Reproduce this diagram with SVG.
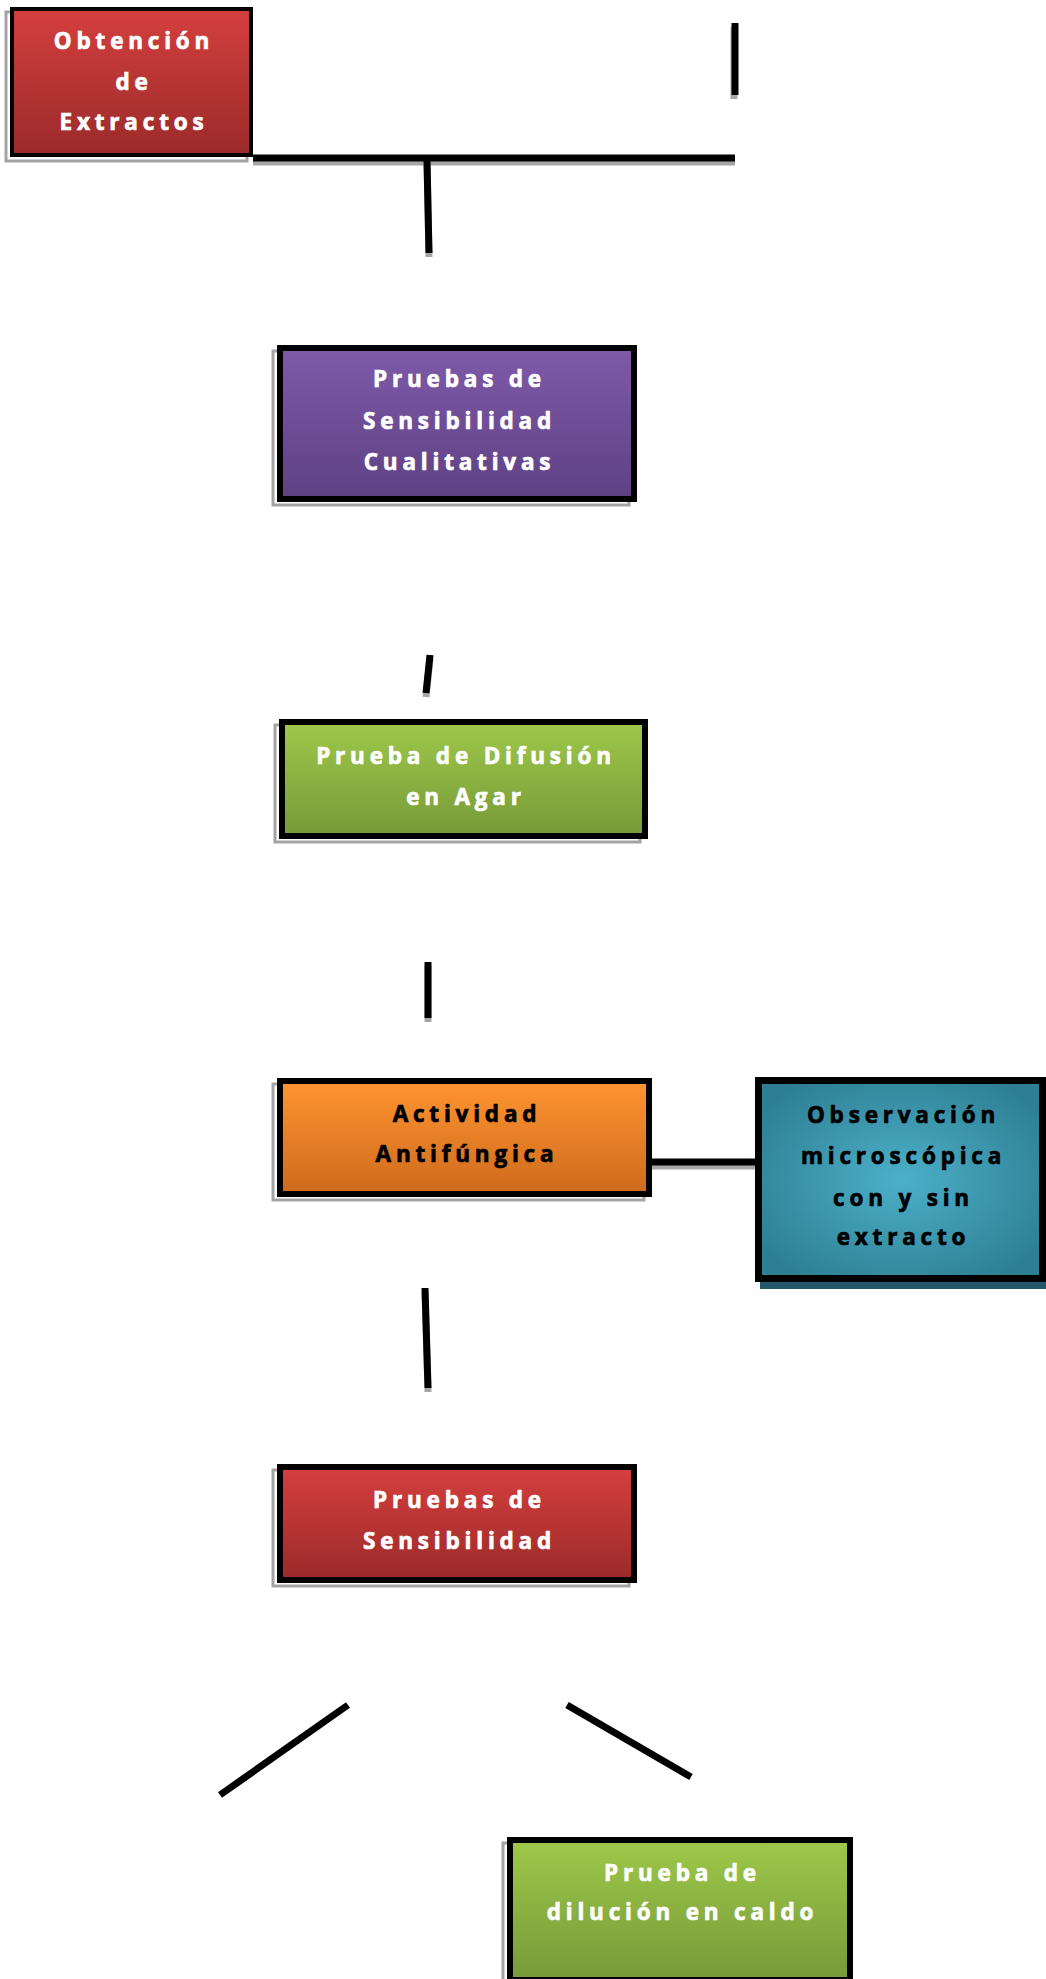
<svg xmlns="http://www.w3.org/2000/svg" width="1046" height="1979" viewBox="0 0 1046 1979">
<style>
.bg{fill:#ffffff}
.box{stroke:#000;stroke-width:6}
.sh{fill:#fff;stroke:#a3a3a3;stroke-width:3}
.t{font-family:"Open Sans",Lato,sans-serif;font-weight:700;font-size:22.5px;letter-spacing:4.8px;text-anchor:middle;stroke-width:0.7px}
.w{fill:#ffffff;stroke:#ffffff}
.k{fill:#000000;stroke:#000000}
.ln{stroke:#000;stroke-width:7;fill:none}
.lns{stroke:#a6a6a6;stroke-width:7;fill:none}
</style>
<defs>
<linearGradient id="gRed" x1="0" y1="0" x2="0" y2="1"><stop offset="0" stop-color="#d43f3e"/><stop offset="1" stop-color="#9b2a2a"/></linearGradient>
<linearGradient id="gPur" x1="0" y1="0" x2="0" y2="1"><stop offset="0" stop-color="#7e5aa9"/><stop offset="1" stop-color="#5e4183"/></linearGradient>
<linearGradient id="gGrn" x1="0" y1="0" x2="0" y2="1"><stop offset="0" stop-color="#9ec84a"/><stop offset="1" stop-color="#769a38"/></linearGradient>
<linearGradient id="gOrg" x1="0" y1="0" x2="0" y2="1"><stop offset="0" stop-color="#ff9430"/><stop offset="1" stop-color="#cd6a1d"/></linearGradient>
<radialGradient id="gTeal" cx="0.5" cy="0.5" r="0.6"><stop offset="0" stop-color="#4cb0c9"/><stop offset="1" stop-color="#2e7f93"/></radialGradient>
</defs>
<rect class="bg" x="0" y="0" width="1046" height="1979"/>

<g id="connectors">
<line class="lns" x1="734" y1="27" x2="734" y2="99"/>
<line class="ln" x1="735" y1="23" x2="735" y2="95"/>
<line class="lns" x1="253" y1="162" x2="735" y2="162"/>
<line class="ln" x1="253" y1="158" x2="735" y2="158"/>
<line class="lns" x1="427" y1="164" x2="429" y2="257"/>
<line class="ln" x1="427" y1="160" x2="429" y2="253"/>
<line class="lns" x1="430" y1="659" x2="426" y2="697"/>
<line class="ln" x1="430" y1="655" x2="426" y2="693"/>
<line class="lns" x1="428" y1="966" x2="428" y2="1022"/>
<line class="ln" x1="428" y1="962" x2="428" y2="1018"/>
<line class="lns" x1="652" y1="1166" x2="755" y2="1166"/>
<line class="ln" x1="652" y1="1162" x2="755" y2="1162"/>
<line class="lns" x1="425" y1="1292" x2="428" y2="1392"/>
<line class="ln" x1="425" y1="1288" x2="428" y2="1388"/>
<line class="ln" x1="348" y1="1705" x2="220" y2="1795"/>
<line class="ln" x1="567" y1="1705" x2="691" y2="1777"/>
</g>

<g id="n1">
<rect class="sh" x="6" y="12" width="241" height="149"/>
<rect x="12" y="9" width="239" height="146" fill="url(#gRed)" stroke="#000" stroke-width="4"/>
<text class="t w" x="134" y="49">Obtención</text>
<text class="t w" x="134" y="90">de</text>
<text class="t w" x="134" y="130">Extractos</text>
</g>

<g id="n2">
<rect class="sh" x="273" y="351" width="356" height="154"/>
<rect class="box" x="280" y="348" width="354" height="151" fill="url(#gPur)"/>
<text class="t w" x="459.5" y="387">Pruebas de</text>
<text class="t w" x="459.5" y="429">Sensibilidad</text>
<text class="t w" x="459.5" y="470">Cualitativas</text>
</g>

<g id="n3">
<rect class="sh" x="275" y="725" width="365" height="117"/>
<rect class="box" x="282" y="722" width="363" height="114" fill="url(#gGrn)"/>
<text class="t w" x="466" y="764">Prueba de Difusión</text>
<text class="t w" x="466" y="805">en Agar</text>
</g>

<g id="n4">
<rect class="sh" x="273" y="1084" width="371" height="116"/>
<rect class="box" x="280" y="1081" width="369" height="113" fill="url(#gOrg)"/>
<text class="t k" x="467" y="1122">Actividad</text>
<text class="t k" x="467" y="1162">Antifúngica</text>
</g>

<g id="n5">
<rect x="760" y="1086" width="290" height="203" fill="#23586a"/>
<rect x="758.5" y="1080.5" width="284" height="198" fill="url(#gTeal)" stroke="#000" stroke-width="7"/>
<text class="t k" x="903.5" y="1123">Observación</text>
<text class="t k" x="903.5" y="1164">microscópica</text>
<text class="t k" x="903.5" y="1206">con y sin</text>
<text class="t k" x="903.5" y="1245">extracto</text>
</g>

<g id="n6">
<rect class="sh" x="273" y="1470" width="356" height="116"/>
<rect class="box" x="280" y="1467" width="354" height="113" fill="url(#gRed)"/>
<text class="t w" x="459.5" y="1508">Pruebas de</text>
<text class="t w" x="459.5" y="1549">Sensibilidad</text>
</g>

<g id="n7">
<rect class="sh" x="503" y="1843" width="342" height="150"/>
<rect class="box" x="510" y="1840" width="340" height="140" fill="url(#gGrn)"/>
<text class="t w" x="682.5" y="1881">Prueba de</text>
<text class="t w" x="682.5" y="1920">dilución en caldo</text>
</g>
</svg>
